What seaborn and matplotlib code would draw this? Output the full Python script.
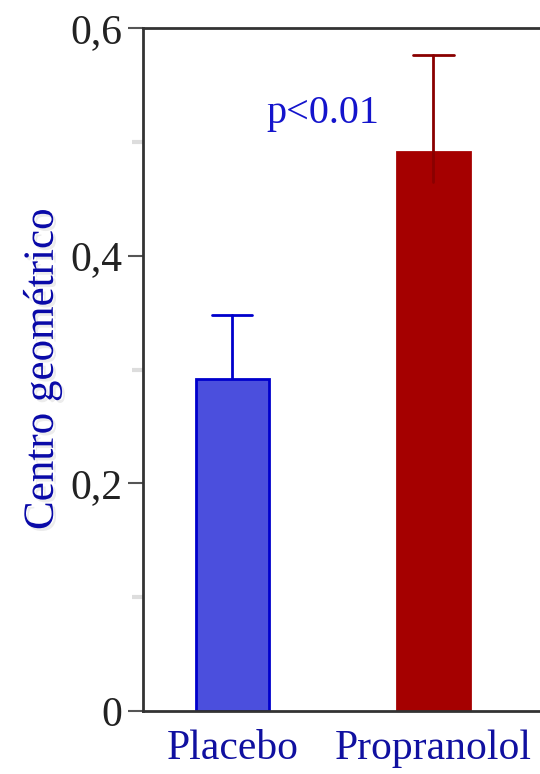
import numpy as np
import pandas as pd
import matplotlib
matplotlib.use("Agg")
import matplotlib.pyplot as plt
import matplotlib.patheffects as pe
import seaborn as sns

# ── data ────────────────────────────────────────────────────────────────────
groups = ["Placebo", "Propranolol"]
means = [0.292, 0.491]
err_low = [0.292, 0.465]
err_high = [0.348, 0.576]
bar_colors = ["#4B4FDD", "#A50000"]
edge_colors = ["#0000CC", "#A50000"]
err_colors = ["#0000CC", "#8A0000"]
yticks = [0, 0.2, 0.4, 0.6]
yticklabels = ["0", "0,2", "0,4", "0,6"]
yminor = [0.1, 0.3, 0.5]

df = pd.DataFrame({"grupo": groups, "valor": means})

sns.set_style("white")
plt.rcParams["font.family"] = ["Liberation Serif", "DejaVu Serif"]

fig = plt.figure(figsize=(5.4, 7.74), dpi=100)
ax = fig.add_axes([0.2648, 0.0814, 0.7352, 0.8824])

# error bars (one-sided, cap on top)
for i in range(len(groups)):
    ax.plot([i, i], [err_low[i], err_high[i]], color=err_colors[i], lw=2,
            zorder=3 if i == 1 else 1)
    ax.plot([i - 0.1, i + 0.1], [err_high[i], err_high[i]],
            color=err_colors[i], lw=2, zorder=3)

sns.barplot(data=df, x="grupo", y="valor", hue="grupo", palette=bar_colors,
            saturation=1, width=0.362, legend=False, ax=ax, zorder=2)
for patch, ec in zip(ax.patches, edge_colors):
    patch.set_edgecolor(ec)
    patch.set_linewidth(2)

ax.set_xlim(-0.444, 1.53)
ax.set_ylim(0, 0.6)

ax.set_yticks(yticks)
ax.set_yticklabels(yticklabels, fontsize=30, color="#222222")
ax.set_yticks(yminor, minor=True)
ax.tick_params(axis="y", which="major", left=True, direction="out",
               length=11, width=1.5, color="#555555", pad=4)
ax.tick_params(axis="y", which="minor", left=True, direction="out",
               length=8, width=3, color="#dddddd")
ax.tick_params(axis="x", bottom=False, pad=10)
for lbl in ax.get_xticklabels():
    lbl.set_fontsize(30)
    lbl.set_color("#1010A0")

ax.set_xlabel("")
ax.set_ylabel("Centro geométrico", fontsize=31, color="#0A0AA8", labelpad=6,
              path_effects=[pe.SimplePatchShadow(offset=(2, -2), alpha=0.15,
                                                 shadow_rgbFace="gray"),
                            pe.Normal()])

for side in ["left", "bottom", "top"]:
    ax.spines[side].set_visible(True)
    ax.spines[side].set_color("#333333")
    ax.spines[side].set_linewidth(2)
ax.spines["right"].set_visible(False)

ax.text(0.45, 0.525, "p<0.01", fontsize=29, color="#1414CC",
        ha="center", va="center")

fig.savefig("out.png", dpi=100)
